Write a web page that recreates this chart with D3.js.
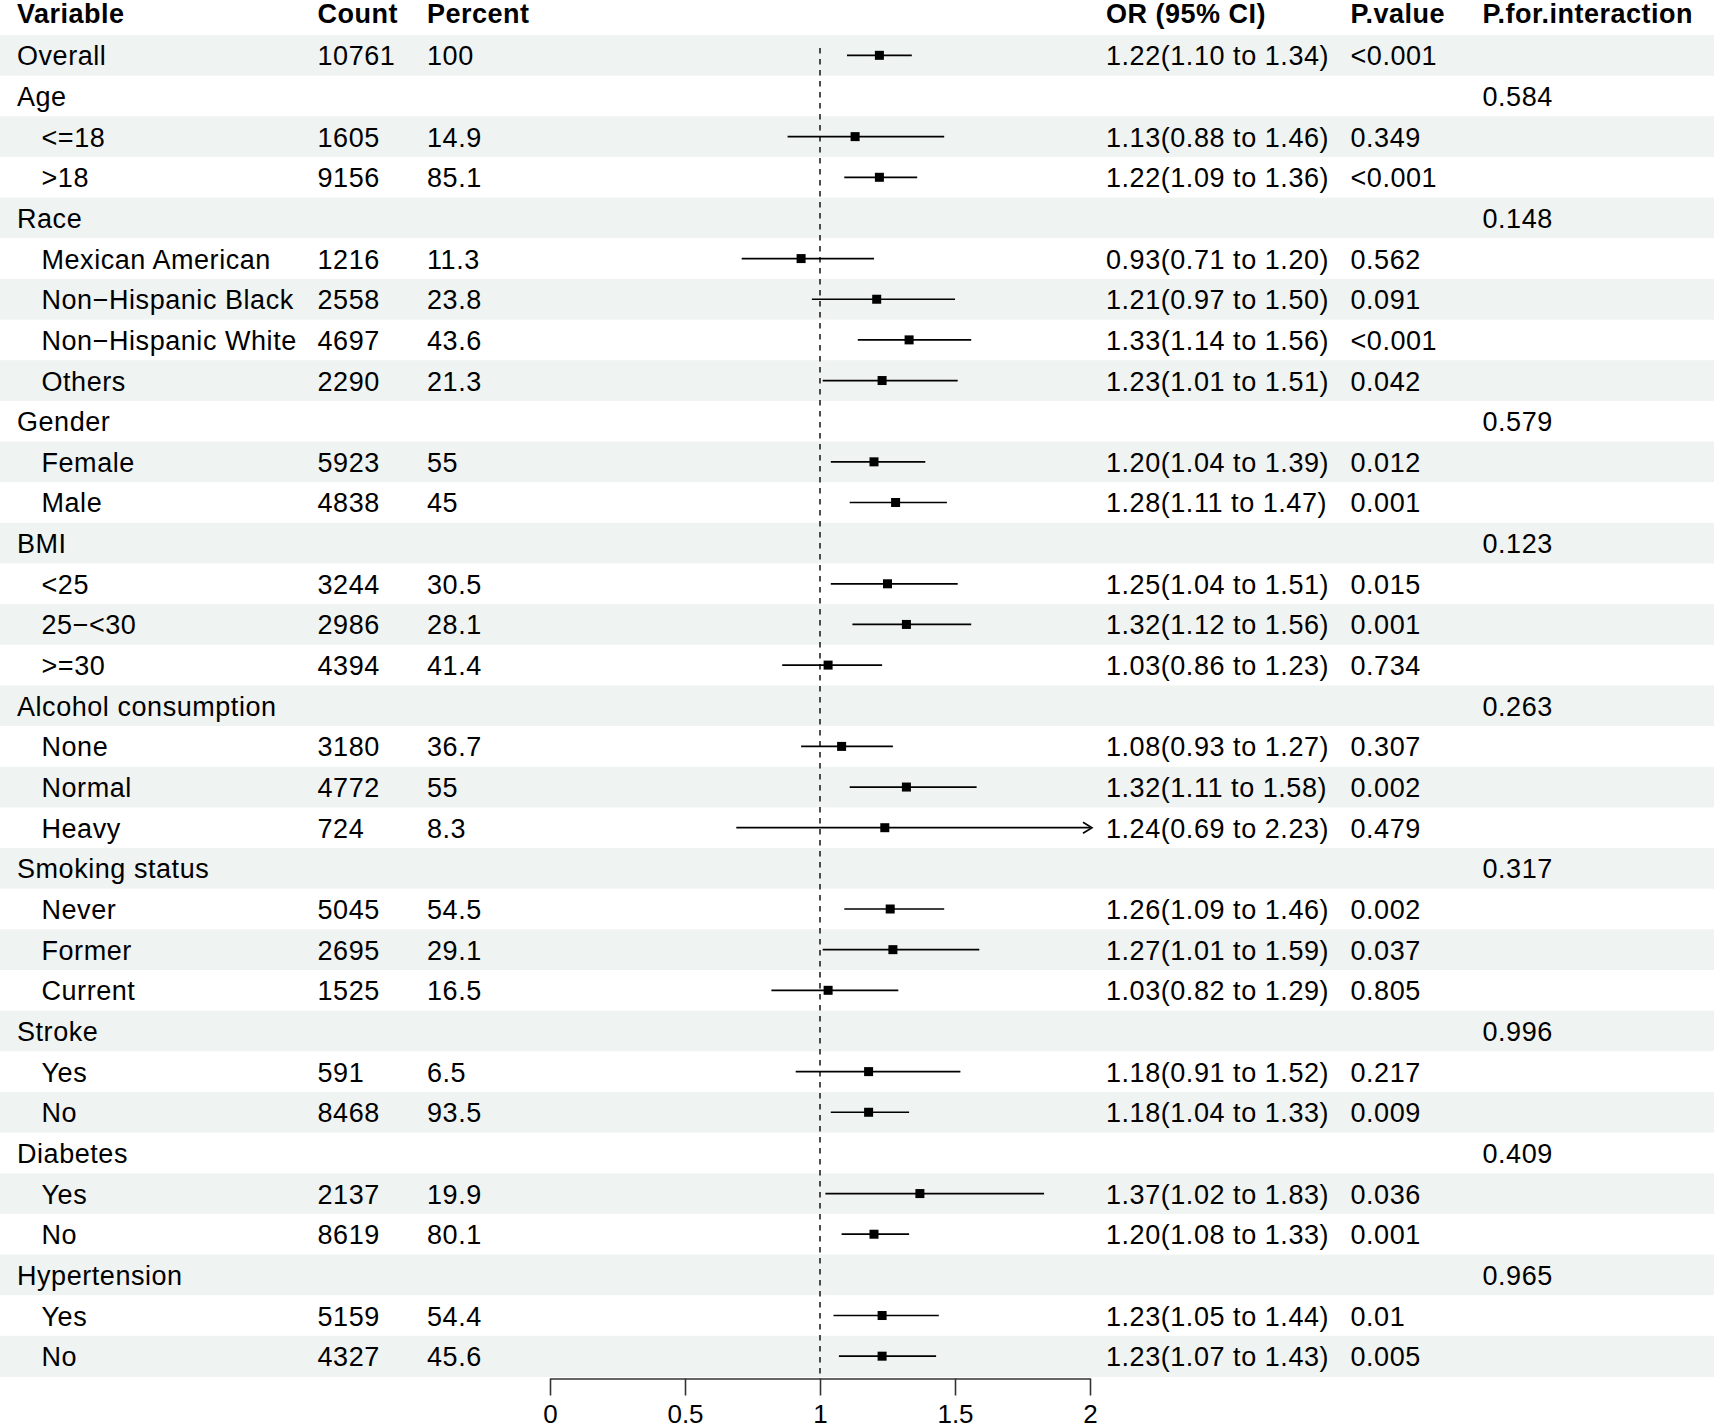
<!DOCTYPE html>
<html>
<head>
<meta charset="utf-8">
<script src="https://cdn.jsdelivr.net/npm/d3@7"></script>
<style>
  body { margin: 0; background: #fff; }
  text { font-family: "Liberation Sans", Arial, sans-serif; fill: #000; }
</style>
</head>
<body>
<script>
var width = 1714,
    height = 1424,
    fontSize = 27;

// table rows, top to bottom (empty count = group heading row)
var labels = ["Overall", "Age", "<=18", ">18", "Race", "Mexican American", "Non\u2212Hispanic Black",
    "Non\u2212Hispanic White", "Others", "Gender", "Female", "Male", "BMI", "<25", "25\u2212<30", ">=30",
    "Alcohol consumption", "None", "Normal", "Heavy", "Smoking status", "Never", "Former", "Current",
    "Stroke", "Yes", "No", "Diabetes", "Yes", "No", "Hypertension", "Yes", "No"];
var indent = [0, 0, 1, 1, 0, 1, 1, 1, 1, 0, 1, 1, 0, 1, 1, 1, 0, 1, 1, 1, 0, 1, 1, 1, 0, 1, 1, 0, 1, 1, 0, 1, 1];
var counts = ["10761", "", "1605", "9156", "", "1216", "2558", "4697", "2290", "", "5923", "4838", "",
    "3244", "2986", "4394", "", "3180", "4772", "724", "", "5045", "2695", "1525", "", "591", "8468", "",
    "2137", "8619", "", "5159", "4327"];
var percents = ["100", "", "14.9", "85.1", "", "11.3", "23.8", "43.6", "21.3", "", "55", "45", "",
    "30.5", "28.1", "41.4", "", "36.7", "55", "8.3", "", "54.5", "29.1", "16.5", "", "6.5", "93.5", "",
    "19.9", "80.1", "", "54.4", "45.6"];
var or = [1.22, null, 1.13, 1.22, null, 0.93, 1.21, 1.33, 1.23, null, 1.20, 1.28, null, 1.25, 1.32, 1.03,
    null, 1.08, 1.32, 1.24, null, 1.26, 1.27, 1.03, null, 1.18, 1.18, null, 1.37, 1.20, null, 1.23, 1.23];
var lower = [1.10, null, 0.88, 1.09, null, 0.71, 0.97, 1.14, 1.01, null, 1.04, 1.11, null, 1.04, 1.12, 0.86,
    null, 0.93, 1.11, 0.69, null, 1.09, 1.01, 0.82, null, 0.91, 1.04, null, 1.02, 1.08, null, 1.05, 1.07];
var upper = [1.34, null, 1.46, 1.36, null, 1.20, 1.50, 1.56, 1.51, null, 1.39, 1.47, null, 1.51, 1.56, 1.23,
    null, 1.27, 1.58, 2.23, null, 1.46, 1.59, 1.29, null, 1.52, 1.33, null, 1.83, 1.33, null, 1.44, 1.43];
var pValues = ["<0.001", "", "0.349", "<0.001", "", "0.562", "0.091", "<0.001", "0.042", "", "0.012",
    "0.001", "", "0.015", "0.001", "0.734", "", "0.307", "0.002", "0.479", "", "0.002", "0.037", "0.805",
    "", "0.217", "0.009", "", "0.036", "0.001", "", "0.01", "0.005"];
var pInteraction = ["", "0.584", "", "", "0.148", "", "", "", "", "0.579", "", "", "0.123", "", "", "",
    "0.263", "", "", "", "0.317", "", "", "", "0.996", "", "", "0.409", "", "", "0.965", "", ""];
var xTicks = [0, 0.5, 1, 1.5, 2];
var headers = ["Variable", "Count", "Percent", "OR (95% CI)", "P.value", "P.for.interaction"];

var colX = [17, 317.5, 427, 1106, 1350.5, 1482.5];

var svg = d3.select("body").append("svg")
    .attr("width", width)
    .attr("height", height);

var y = d3.scaleBand()
    .domain(d3.range(labels.length))
    .range([35, 1376.5]);

var x = d3.scaleLinear()
    .domain([0, 2])
    .range([550, 1090]);

var f2 = d3.format(".2f");

var rows = labels.map(function(d, i) {
    return {
        i: i, label: d, indent: indent[i], count: counts[i], percent: percents[i],
        or: or[i], lo: lower[i], hi: upper[i], p: pValues[i], pint: pInteraction[i]
    };
});

// zebra bands
svg.selectAll("rect.band")
    .data(rows)
    .enter().append("rect")
    .attr("class", "band")
    .attr("x", 0)
    .attr("y", function(d) { return y(d.i); })
    .attr("width", width)
    .attr("height", y.bandwidth() + 0.5)
    .style("fill", function(d) { return d.i % 2 === 0 ? "#eff3f2" : "#ffffff"; });

// headers
svg.selectAll("text.header")
    .data(headers)
    .enter().append("text")
    .attr("class", "header")
    .attr("x", function(d, i) { return colX[i]; })
    .attr("y", 22.5)
    .style("font-size", fontSize + "px")
    .style("letter-spacing", "0.5px")
    .style("font-weight", "bold")
    .text(function(d) { return d; });

var mid = function(i) { return y(i) + y.bandwidth() / 2; };

var cells = svg.selectAll("g.row")
    .data(rows)
    .enter().append("g")
    .attr("class", "row")
    .attr("transform", function(d) { return "translate(0," + (mid(d.i) + 10) + ")"; });

cells.append("text").attr("x", function(d) { return d.indent ? 41.5 : colX[0]; })
    .text(function(d) { return d.label; });
cells.append("text").attr("x", colX[1]).text(function(d) { return d.count; });
cells.append("text").attr("x", colX[2]).text(function(d) { return d.percent; });
cells.append("text").attr("x", colX[3])
    .text(function(d) { return d.or == null ? "" : f2(d.or) + "(" + f2(d.lo) + " to " + f2(d.hi) + ")"; });
cells.append("text").attr("x", colX[4]).text(function(d) { return d.p; });
cells.append("text").attr("x", colX[5]).text(function(d) { return d.pint; });
cells.selectAll("text")
    .style("font-size", fontSize + "px")
    .style("letter-spacing", "0.55px");

// reference line at OR = 1
svg.append("line")
    .attr("x1", x(1)).attr("x2", x(1))
    .attr("y1", 48).attr("y2", 1377)
    .style("stroke", "#222")
    .style("stroke-width", 1.6)
    .style("stroke-dasharray", "5.5,5.5");

var est = rows.filter(function(d) { return d.or != null; });

svg.selectAll("line.ci")
    .data(est)
    .enter().append("line")
    .attr("class", "ci")
    .attr("x1", function(d) { return x(Math.max(d.lo, 0)); })
    .attr("x2", function(d) { return x(Math.min(d.hi, 2)); })
    .attr("y1", function(d) { return mid(d.i); })
    .attr("y2", function(d) { return mid(d.i); })
    .style("stroke", "#000")
    .style("stroke-width", 1.7);

// open arrow where CI runs past the axis
svg.selectAll("path.arrow")
    .data(est.filter(function(d) { return d.hi > 2; }))
    .enter().append("path")
    .attr("class", "arrow")
    .attr("d", function(d) {
        var ax = x(2) + 2, ay = mid(d.i);
        return "M" + (ax - 9) + "," + (ay - 5.5) + "L" + ax + "," + ay + "L" + (ax - 9) + "," + (ay + 5.5);
    })
    .style("fill", "none")
    .style("stroke", "#000")
    .style("stroke-width", 1.6);

var box = 9;
svg.selectAll("rect.pt")
    .data(est)
    .enter().append("rect")
    .attr("class", "pt")
    .attr("x", function(d) { return x(d.or) - box / 2; })
    .attr("y", function(d) { return mid(d.i) - box / 2; })
    .attr("width", box)
    .attr("height", box)
    .style("fill", "#000");

// x axis
var axis = svg.append("g")
    .attr("transform", "translate(0,1378.5)")
    .call(d3.axisBottom(x)
        .tickValues(xTicks)
        .tickSize(17)
        .tickSizeOuter(0)
        .tickPadding(9)
        .tickFormat(d3.format("~g")));

axis.select(".domain").style("stroke", "#333").style("stroke-width", 1.6);
axis.selectAll(".tick line").style("stroke", "#333").style("stroke-width", 1.6);
axis.selectAll(".tick text")
    .style("font-size", "26px")
    .style("font-family", "'Liberation Sans', Arial, sans-serif")
    .style("fill", "#000");
</script>
</body>
</html>
